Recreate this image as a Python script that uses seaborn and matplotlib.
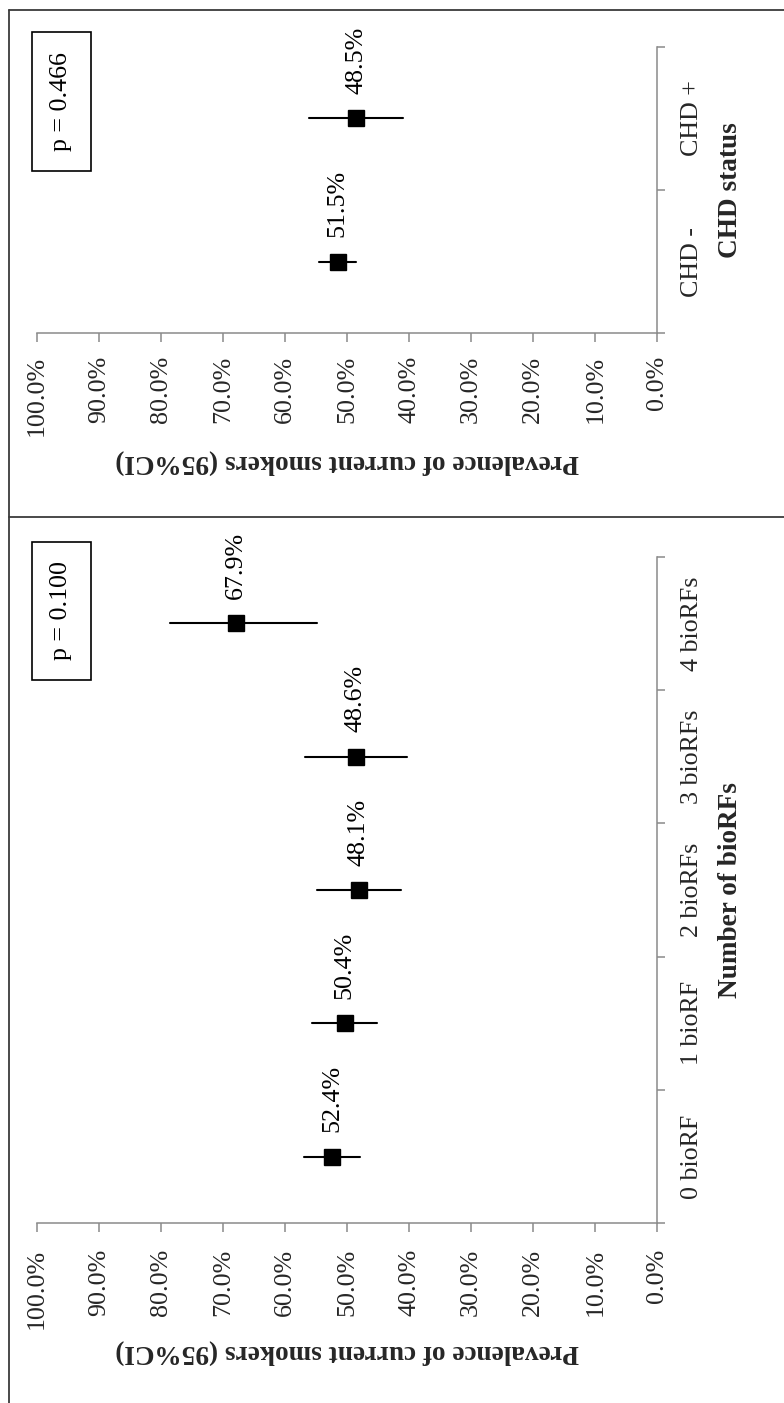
import numpy as np
import pandas as pd
import matplotlib
matplotlib.use("Agg")
import matplotlib.pyplot as plt
from matplotlib.patches import Rectangle
from matplotlib.lines import Line2D
import seaborn as sns

# ---------------- data ----------------
# Top panel: CHD status
chd_groups = ["CHD -", "CHD +"]
chd_prev = [51.5, 48.5]
chd_lo = [48.5, 41.0]
chd_hi = [54.5, 56.1]
chd_p = "p = 0.466"
chd_title = "CHD status"

# Bottom panel: number of biological risk factors
rf_groups = ["0 bioRF", "1 bioRF", "2 bioRFs", "3 bioRFs", "4 bioRFs"]
rf_prev = [52.4, 50.4, 48.1, 48.6, 67.9]
rf_lo = [47.9, 45.2, 41.3, 40.4, 54.9]
rf_hi = [56.9, 55.6, 54.9, 56.8, 78.6]
rf_p = "p = 0.100"
rf_title = "Number of bioRFs"

value_ticks = [0, 10, 20, 30, 40, 50, 60, 70, 80, 90, 100]
value_label = "Prevalence of current smokers (95%CI)"

# ---------------- style ----------------
sns.set_style("ticks")
plt.rcParams["font.family"] = ["Liberation Serif", "DejaVu Serif"]
FS = 18.7
FS_TITLE = 19.6
GRAY = "#8a8a8a"
FRAME = "#3a3a3a"

W, H, DPI = 784, 1403, 100
fig = plt.figure(figsize=(W / DPI, H / DPI), dpi=DPI)
fig.patch.set_facecolor("white")


def fig_rect(x0, y0, x1, y1):
    """pixel box (from top-left) -> figure fraction [l, b, w, h]"""
    return [x0 / W, 1 - y1 / H, (x1 - x0) / W, (y1 - y0) / H]


ax_top = fig.add_axes(fig_rect(36.7, 46.7, 657.3, 333.3))
ax_bot = fig.add_axes(fig_rect(36.7, 556.7, 657.3, 1223.3))


def draw_panel(ax, groups, prev, lo, hi, cat_title, tick_pad, xlabel_y):
    n = len(groups)
    df = pd.DataFrame({
        "group": np.repeat(groups, 3),
        "value": np.column_stack([lo, prev, hi]).ravel(),
    })
    sns.pointplot(data=df, x="value", y="group", order=groups, orient="h",
                  estimator="median", errorbar=("pi", 100), color="black",
                  markers="s", linestyle="none", markersize=12,
                  markeredgewidth=1, capsize=0,
                  err_kws={"linewidth": 1.5}, ax=ax)

    for i, v in enumerate(prev):
        ax.annotate(f"{v:.1f}%", xy=(v, i), xytext=(0, 17.5),
                    textcoords="offset points", rotation=90,
                    ha="center", va="bottom", fontsize=FS, color="black")

    ax.set_xlim(100, 0)
    ax.set_ylim(-0.5, n - 0.5)
    ax.set_xticks(value_ticks)
    ax.set_xticklabels([f"{t:.1f}%" for t in value_ticks], rotation=90,
                       fontsize=FS)
    ax.tick_params(axis="x", which="major", length=6.5, width=1.1,
                   color=GRAY, pad=tick_pad, direction="out", bottom=True,
                   top=False)

    ax.yaxis.tick_right()
    ax.set_yticks(np.arange(n + 1) - 0.5)
    ax.set_yticklabels([])
    ax.set_yticks(np.arange(n), minor=True)
    ax.set_yticklabels(groups, minor=True, rotation=90, va="center",
                       fontsize=FS)
    ax.tick_params(axis="y", which="major", length=6, width=1.1, color=GRAY,
                   direction="out", right=True, left=False)
    ax.tick_params(axis="y", which="minor", length=0, pad=17, right=True,
                   left=False, labelright=True, labelleft=False)

    for s in ["top", "left"]:
        ax.spines[s].set_visible(False)
    for s in ["bottom", "right"]:
        ax.spines[s].set_color(GRAY)
        ax.spines[s].set_linewidth(1.1)

    ax.set_xlabel(value_label, rotation=180, fontweight="bold",
                  fontsize=FS_TITLE)
    ax.xaxis.label.set_va("center")
    ax.xaxis.label.set_ha("center")
    ax.xaxis.set_label_coords(0.5, xlabel_y)

    ax.yaxis.set_label_position("right")
    ax.set_ylabel(cat_title, fontweight="bold", fontsize=FS_TITLE,
                  rotation=90)
    ax.yaxis.label.set_va("center")
    ax.yaxis.label.set_ha("center")
    ax.yaxis.set_label_coords(1.1172, 0.5)
    ax.grid(False)
    ax.set_facecolor("white")


draw_panel(ax_top, chd_groups, chd_prev, chd_lo, chd_hi, chd_title,
           tick_pad=10, xlabel_y=-127.7 / 286.6)
draw_panel(ax_bot, rf_groups, rf_prev, rf_lo, rf_hi, rf_title,
           tick_pad=12, xlabel_y=-127.7 / 666.6)


# ---------------- frames & p-value boxes ----------------
def px_line(x0, y0, x1, y1):
    fig.add_artist(Line2D([x0 / W, x1 / W], [1 - y0 / H, 1 - y1 / H],
                          transform=fig.transFigure, color=FRAME, lw=1.3))


px_line(9, 10, 784, 10)
px_line(9, 10, 9, 1403)
px_line(9, 517, 784, 517)


def p_box(text, x0, y0, x1, y1):
    l, b, w, h = fig_rect(x0, y0, x1, y1)
    fig.add_artist(Rectangle((l, b), w, h, transform=fig.transFigure,
                             fill=False, edgecolor="black", linewidth=1.2))
    fig.text(l + w / 2, b + h / 2, text, rotation=90, ha="center",
             va="center", fontsize=FS, color="black")


p_box(chd_p, 31.7, 32.3, 91, 170.7)
p_box(rf_p, 31.7, 541.7, 91, 680)

fig.savefig("out.png", dpi=DPI, facecolor="white")
